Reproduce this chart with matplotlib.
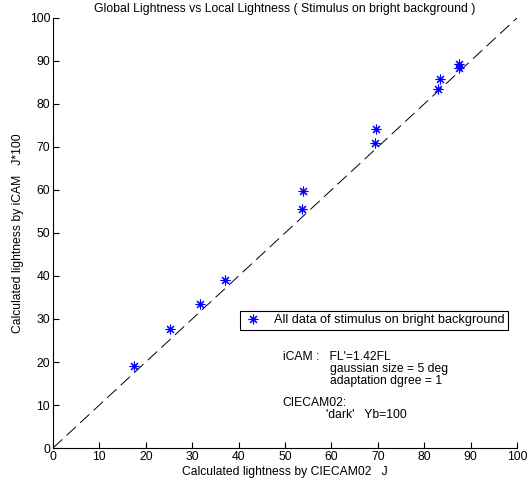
import matplotlib.pyplot as plt

# CIECAM02 J vs iCAM J*100, stimulus on bright background
ciecam_J = [17.4, 25.3, 31.6, 37.0, 53.6, 53.8, 69.4, 69.7, 83.0, 83.4, 87.4, 87.5]
icam_J = [19.1, 27.7, 33.6, 39.1, 55.6, 59.8, 70.9, 74.1, 83.5, 85.8, 88.3, 89.3]
ticks = [0, 10, 20, 30, 40, 50, 60, 70, 80, 90, 100]

plt.rcParams['font.family'] = ['Liberation Sans', 'DejaVu Sans']
plt.rcParams['font.size'] = 8.7

fig = plt.figure(figsize=(5.31, 4.9), dpi=100)
ax = fig.add_axes([0.0998, 0.0857, 0.8738, 0.8776])

# 1:1 reference line
ax.plot([0, 100], [0, 100], color='black', linestyle=(0, (13, 6)), linewidth=0.7)
ax.plot(ciecam_J, icam_J, linestyle='none', marker=(8, 2, 0), markersize=7,
        markeredgewidth=0.8, color='blue', label='All data of stimulus on bright background')

ax.set_xlim(0, 100)
ax.set_ylim(0, 100)
ax.set_xticks(ticks)
ax.set_yticks(ticks)
ax.tick_params(direction='in', length=4, width=0.8, pad=2)
ax.spines['top'].set_visible(False)
ax.spines['right'].set_visible(False)

ax.set_title('Global Lightness vs Local Lightness ( Stimulus on bright background )',
             pad=4, fontsize=8.8)
ax.set_xlabel('Calculated lightness by CIECAM02   J', labelpad=2)
ax.set_ylabel('Calculated lightness by iCAM   J*100', labelpad=4)

leg = ax.legend(loc='upper left', bbox_to_anchor=(0.403, 0.318), fancybox=False,
                edgecolor='black', framealpha=1, borderpad=0.25, handlelength=1.5,
                handletextpad=0.9, borderaxespad=0, fontsize=9.2)
leg.get_frame().set_linewidth(0.8)

ax.text(49.6, 21.2, "iCAM :   FL'=1.42FL", va='center')
ax.text(59.8, 18.4, 'gaussian size = 5 deg', va='center')
ax.text(59.8, 15.6, 'adaptation dgree = 1', va='center')
ax.text(49.4, 10.5, 'CIECAM02:', va='center')
ax.text(58.9, 7.7, "'dark'   Yb=100", va='center')

fig.savefig('out.png')
